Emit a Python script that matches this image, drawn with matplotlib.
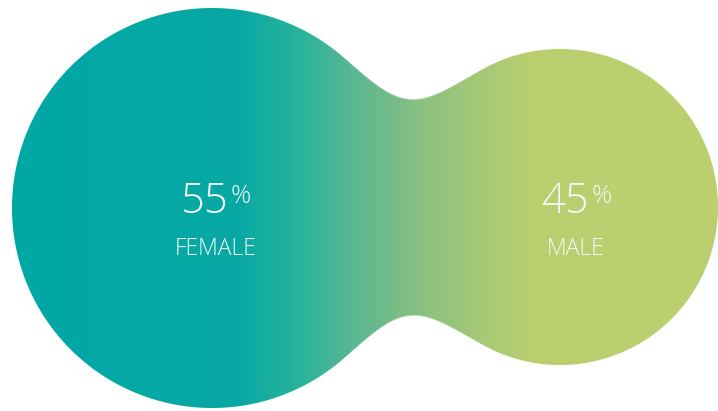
import numpy as np
import matplotlib
matplotlib.use('Agg')
import matplotlib.pyplot as plt
from matplotlib.colors import LinearSegmentedColormap

# data
labels = ['FEMALE', 'MALE']
values = [55, 45]

# lobe geometry (pixel coords, y down)
centers = [(212, 208), (560, 207)]
radii = [200, 158]
blend = 105   # smoothness of the neck

# gradient stops along x
stop_x = [0, 240, 300, 360, 430, 530, 718]
stop_col = ['#00a7a6', '#08a9a4', '#2ab39a', '#5fb891', '#8fc27e', '#b9cf6f', '#bccf6f']

W, H = 718, 411
fig = plt.figure(figsize=(W / 100, H / 100), dpi=100)
ax = fig.add_axes([0, 0, 1, 1])
ax.set_xlim(0, W)
ax.set_ylim(H, 0)
ax.axis('off')

xx, yy = np.meshgrid(np.arange(W) + 0.5, np.arange(H) + 0.5)
d1 = np.hypot(xx - centers[0][0], yy - centers[0][1]) - radii[0]
d2 = np.hypot(xx - centers[1][0], yy - centers[1][1]) - radii[1]
h = np.clip(blend - np.abs(d1 - d2), 0, None) / blend
d = np.minimum(d1, d2) - h * h * blend / 4
alpha = np.clip(0.5 - d, 0, 1)

cmap = LinearSegmentedColormap.from_list(
    'g', [(x / W, c) for x, c in zip(stop_x, stop_col)])
rgba = cmap(xx / W)
rgba[..., 3] = alpha
ax.imshow(rgba, extent=[0, W, H, 0], interpolation='bilinear')

fam = ['Open Sans', 'DejaVu Sans']
txt = '#f2f9f5'
num_pos = [(228, 213), (589, 213)]
lab_pos = [(216, 255), (576, 255)]
for lab, v, (nx, ny), (lx, ly) in zip(labels, values, num_pos, lab_pos):
    ax.text(nx, ny, str(v), ha='right', va='baseline', fontsize=30,
            color=txt, family=fam, fontweight='light')
    ax.text(nx + 3, ny - 29, '%', ha='left', va='top', fontsize=18,
            color=txt, family=fam, fontweight='light')
    ax.text(lx, ly, lab, ha='center', va='baseline', fontsize=16.5,
            color=txt, family=fam, fontweight='light')

fig.savefig('out.png', dpi=100, facecolor='white')
